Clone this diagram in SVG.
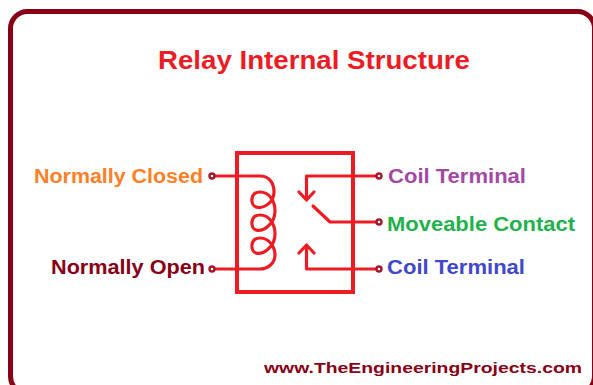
<svg xmlns="http://www.w3.org/2000/svg" width="593" height="385" viewBox="0 0 593 385">
<style>
text{font-family:"Liberation Sans",Arial,sans-serif;font-weight:bold}
.l{font-size:20px;stroke-width:.3px}
.w{fill:none;stroke:#ed1c24;stroke-width:3.2;stroke-linejoin:round;stroke-linecap:round}
.d{fill:#fff;stroke:#a5162a;stroke-width:2.4}
</style>
<rect width="593" height="385" fill="#fff"/>
<rect id="frame" x="10.5" y="11.5" width="584" height="382" rx="17" fill="#fff" stroke="#880015" stroke-width="5"/>
<text id="title" x="158" y="69" textLength="312" lengthAdjust="spacingAndGlyphs" font-size="25" fill="#ed1c24">Relay Internal Structure</text>
<g id="connectors">
<path class="w" d="M212 176H260C270 176 274 184 274 192C274 204 262 209 256 207C250 205 250 192 260 192C270 192 275 202 275 211C275 225 262 232 256 230C250 228 250 215 260 215C270 215 275 225 275 234C275 248 262 255 256 253C250 251 250 238 260 238C270 238 275 248 275 255C275 263 268 269 260 269H212"/>
<path class="w" d="M378 176H306.500V200M299 192L306.500 200L314 192"/>
<path class="w" d="M378 269H306.500V245M299 253L306.500 245L314 253"/>
<path class="w" d="M313 206L330 222H378"/>
</g>
<g id="relay-body"><rect x="237" y="153" width="116" height="139" fill="none" stroke="#ed1c24" stroke-width="4"/></g>
<g id="normally-closed"><circle class="d" cx="212" cy="176" r="2.5"/><text class="l" x="34" y="183" textLength="169" lengthAdjust="spacingAndGlyphs" fill="#ff7f27">Normally Closed</text></g>
<g id="normally-open"><circle class="d" cx="212" cy="269" r="2.5"/><text class="l" x="51" y="274" textLength="154" lengthAdjust="spacingAndGlyphs" fill="#880015">Normally Open</text></g>
<g id="coil-terminal-1"><circle class="d" cx="379" cy="176" r="2.5"/><text class="l" x="388" y="183" textLength="138" lengthAdjust="spacingAndGlyphs" fill="#a349a4">Coil Terminal</text></g>
<g id="moveable-contact"><circle class="d" cx="379" cy="222" r="2.5"/><text class="l" x="387" y="231" textLength="188" lengthAdjust="spacingAndGlyphs" fill="#22b14c">Moveable Contact</text></g>
<g id="coil-terminal-2"><circle class="d" cx="379" cy="269" r="2.5"/><text class="l" x="387" y="274" textLength="138" lengthAdjust="spacingAndGlyphs" fill="#3f48cc">Coil Terminal</text></g>
<text id="website" x="264" y="373" textLength="318" lengthAdjust="spacingAndGlyphs" font-size="15.500" fill="#880015">www.TheEngineeringProjects.com</text>
</svg>
